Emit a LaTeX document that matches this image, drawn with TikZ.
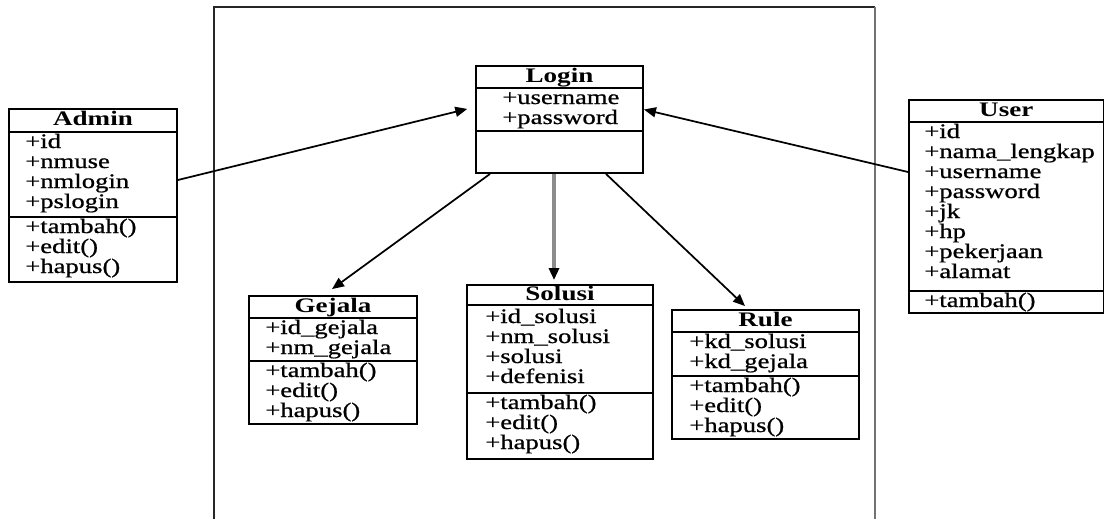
\documentclass[tikz,border=0pt]{standalone}
\usepackage{fontspec}
\setmainfont{Liberation Serif}[FakeStretch=1.31]
\newfontfamily\memberfont{Liberation Serif}[FakeStretch=1.29,FakeBold=0.8]
\usetikzlibrary{arrows.meta,calc,fit}
\begin{document}
\begin{tikzpicture}[x=0.75pt,y=-0.75pt,
  classbox/.style={draw=black, line width=1.4pt, inner sep=0pt},
  sepline/.style={draw=black, line width=1.4pt},
  member/.style={anchor=base west, inner sep=0pt, font=\fontsize{15.5}{15.5}\memberfont},
  classname/.style={anchor=base, inner sep=0pt, font=\fontsize{15.5}{15.5}\selectfont\bfseries},
  assoc/.style={-{Triangle[length=9pt,width=7.5pt]}, line width=1.3pt, draw=black},
  frameline/.style={line width=2pt}]
\useasboundingbox (0,0) rectangle (1105,518);

% system boundary
\draw[frameline, draw=black!85] (214,520) -- (214,7) -- (875,7);
\draw[frameline, draw=black!55] (875,7) -- (875,520);

% ---------- Admin ----------
\node[classbox, fit={(9,109)(177,282)}] (admin) {};
\draw[sepline] (admin.west |- 0,132) -- (admin.east |- 0,132);
\draw[sepline] (admin.west |- 0,217) -- (admin.east |- 0,217);
\node[classname] (admin-t) at ($(admin.north)+(0,17)$) {Admin};
\node[member] (admin-a1) at (25,148) {+id};
\node[member] (admin-a2) at (25,168) {+nmuse};
\node[member] (admin-a3) at (25,188) {+nmlogin};
\node[member] (admin-a4) at (25,208) {+pslogin};
\node[member] (admin-m1) at (25,233) {+tambah()};
\node[member] (admin-m2) at (25,253) {+edit()};
\node[member] (admin-m3) at (25,273) {+hapus()};

% ---------- Login ----------
\node[classbox, fit={(476,66)(643,173)}] (login) {};
\draw[sepline] (login.west |- 0,88) -- (login.east |- 0,88);
\draw[sepline] (login.west |- 0,131) -- (login.east |- 0,131);
\node[classname] (login-t) at ($(login.north)+(0,17)$) {Login};
\node[member] (login-a1) at (502,104) {+username};
\node[member] (login-a2) at (502,124) {+password};

% ---------- User ----------
\node[classbox, fit={(909,100)(1103.5,313)}] (user) {};
\draw[sepline] (user.west |- 0,122) -- (user.east |- 0,122);
\draw[sepline] (user.west |- 0,291) -- (user.east |- 0,291);
\node[classname] (user-t) at ($(user.north)+(0,17)$) {User};
\node[member] (user-a1) at (924,138) {+id};
\node[member] (user-a2) at (924,158) {+nama\_lengkap};
\node[member] (user-a3) at (924,178) {+username};
\node[member] (user-a4) at (924,198) {+password};
\node[member] (user-a5) at (924,218) {+jk};
\node[member] (user-a6) at (924,238) {+hp};
\node[member] (user-a7) at (924,258) {+pekerjaan};
\node[member] (user-a8) at (924,278) {+alamat};
\node[member] (user-m1) at (924,307) {+tambah()};

% ---------- Gejala ----------
\node[classbox, fit={(249,296)(417,424)}] (gejala) {};
\draw[sepline] (gejala.west |- 0,318) -- (gejala.east |- 0,318);
\draw[sepline] (gejala.west |- 0,361) -- (gejala.east |- 0,361);
\node[classname] (gejala-t) at ($(gejala.north)+(0,17)$) {Gejala};
\node[member] (gejala-a1) at (265,334) {+id\_gejala};
\node[member] (gejala-a2) at (265,354) {+nm\_gejala};
\node[member] (gejala-m1) at (265,377) {+tambah()};
\node[member] (gejala-m2) at (265,397) {+edit()};
\node[member] (gejala-m3) at (265,417) {+hapus()};

% ---------- Solusi ----------
\node[classbox, fit={(467,285)(653,459)}] (solusi) {};
\draw[sepline] (solusi.west |- 0,305) -- (solusi.east |- 0,305);
\draw[sepline] (solusi.west |- 0,393) -- (solusi.east |- 0,393);
\node[classname] (solusi-t) at ($(solusi.north)+(0,16)$) {Solusi};
\node[member] (solusi-a1) at (485,323) {+id\_solusi};
\node[member] (solusi-a2) at (485,343) {+nm\_solusi};
\node[member] (solusi-a3) at (485,363) {+solusi};
\node[member] (solusi-a4) at (485,383) {+defenisi};
\node[member] (solusi-m1) at (485,409) {+tambah()};
\node[member] (solusi-m2) at (485,429) {+edit()};
\node[member] (solusi-m3) at (485,449) {+hapus()};

% ---------- Rule ----------
\node[classbox, fit={(672,310)(859,439)}] (rule) {};
\draw[sepline] (rule.west |- 0,332) -- (rule.east |- 0,332);
\draw[sepline] (rule.west |- 0,376) -- (rule.east |- 0,376);
\node[classname] (rule-t) at ($(rule.north)+(0,17)$) {Rule};
\node[member] (rule-a1) at (689,348) {+kd\_solusi};
\node[member] (rule-a2) at (689,368) {+kd\_gejala};
\node[member] (rule-m1) at (689,392) {+tambah()};
\node[member] (rule-m2) at (689,412) {+edit()};
\node[member] (rule-m3) at (689,432) {+hapus()};

% ---------- associations ----------
\draw[assoc, shorten >=6pt] ($(admin.east)+(0,-15.5)$) -- ($(login.west)+(0,-12.5)$);
\draw[assoc] ($(user.west)+(0,-34.5)$) -- ($(login.east)+(0,-10)$);
\draw[assoc] ($(login.south)+(-69.5,0)$) -- ($(gejala.north)+(-1,-6)$);
\draw[assoc, draw=black!45, line width=2.4pt, -{Triangle[length=9pt,width=7.5pt,color=black]}]
  ($(login.south)+(-5.5,0)$) -- ($(solusi.north)+(-6,-4)$);
\draw[assoc] ($(login.south)+(46.5,0)$) -- ($(rule.north)+(-20.5,-3)$);
\end{tikzpicture}
\end{document}
